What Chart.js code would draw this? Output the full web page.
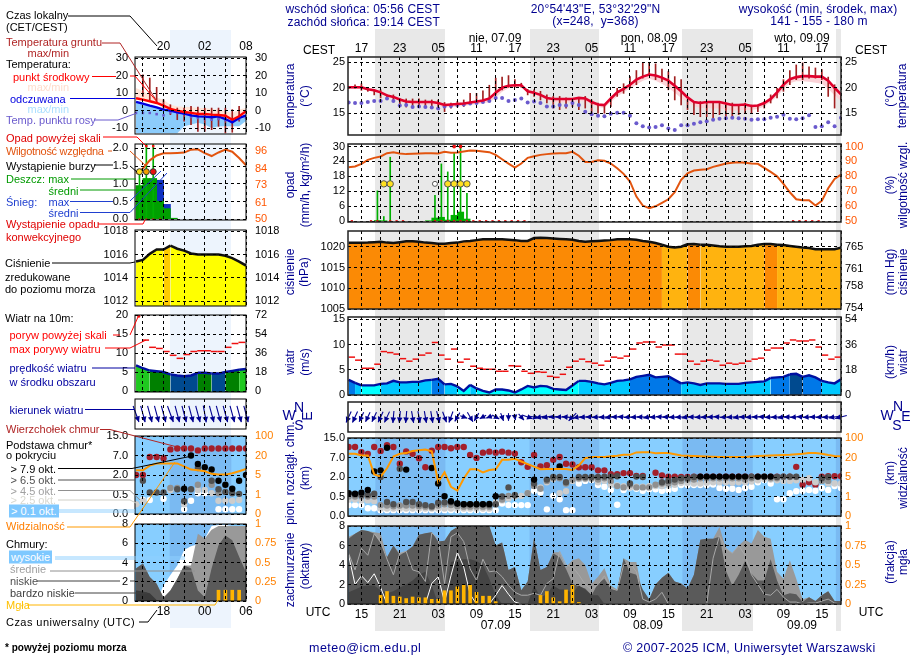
<!DOCTYPE html>
<html lang="pl">
<head>
<meta charset="utf-8">
<title>Meteogram</title>
<script src="https://cdn.jsdelivr.net/npm/chart.js@4"></script>
<style>
  html, body { margin: 0; padding: 0; background: #fff; }
  #page { position: relative; width: 910px; height: 660px; overflow: hidden; font: 12px "Liberation Sans", Arial, sans-serif; }
  #page canvas { position: absolute; z-index: 2; }
  .band { position: absolute; z-index: 1; }
  .txt { position: absolute; z-index: 4; white-space: pre; line-height: 1; }
  svg { position: absolute; left: 0; top: 0; z-index: 3; }
</style>
</head>
<body>
<div id="page"></div>
<script>
// ── Values, hour 0 = 13 UTC ───────────────────────────────────────────────
const temp = [20.1,20.1,20.1,19.7,19.5,19.1,18.5,18.2,17.7,17.3,17.2,17.2,17.2,17.2,17.0,16.6,16.7,16.8,16.9,17.1,17.3,17.5,17.9,19.0,20.0,20.4,20.5,20.5,19.3,19.0,18.6,18.0,17.8,17.8,17.8,17.8,18.0,17.9,17.2,16.7,16.6,17.9,19.1,19.8,20.6,21.6,22.2,22.6,22.4,22.0,21.4,20.4,19.3,18.1,17.2,17.0,17.2,17.2,17.2,16.9,16.6,16.6,16.7,16.4,16.5,17.0,17.8,19.1,20.6,21.7,22.1,22.3,22.3,22.2,22.2,21.4,20.0,18.7];
const tempLow = [19.8,19.8,19.8,19.4,19.2,18.8,18.2,17.9,17.4,16.9,16.7,16.6,16.6,16.6,16.4,16.1,16.2,16.3,16.4,16.6,16.8,16.9,17.2,18.0,19.2,19.9,20.1,20.2,19.0,18.6,18.2,17.6,17.2,17.1,17.1,17.2,17.4,17.3,16.7,16.2,16.0,17.2,18.3,19.1,19.8,20.6,21.4,21.8,21.4,20.8,20.0,19.0,18.0,17.2,16.4,16.0,16.0,15.9,15.9,15.7,15.5,15.6,15.6,15.6,15.8,16.3,17.2,18.3,19.7,20.9,21.3,21.3,21.2,21.0,20.8,19.8,18.5,17.4];
const dewPoint = [17.1,17.0,17.0,17.2,17.4,17.4,17.9,17.4,16.5,16.6,16.2,16.3,16.2,16.1,15.9,16.3,16.4,16.6,16.7,16.9,17.0,17.2,17.4,18.0,18.0,17.4,17.6,17.9,17.1,17.3,17.0,16.3,16.3,16.6,16.5,17.0,16.6,15.3,14.8,14.5,14.4,14.9,15.1,15.1,14.5,13.0,12.4,12.2,12.3,12.6,12.0,11.7,12.6,12.6,12.9,13.2,13.4,13.7,13.9,14.0,14.1,14.0,13.9,13.7,13.8,13.8,14.1,14.3,14.7,13.9,13.8,14.0,14.6,12.3,12.4,13.2,12.4,14.1];
const groundMax = [20.3,20.6,20.8,19.9,19.6,19.6,18.6,18.6,17.9,17.8,17.8,17.8,17.6,17.6,17.6,17.1,17,17.3,17.6,18.9,18.9,19.4,20.5,21.9,22.1,22.4,21.6,20.9,19.7,19.6,19.3,18.6,18.3,18.3,18,17.6,18,18.3,17.6,17,16.4,18.2,19.9,20.8,22.2,23.4,24.9,24.9,24.7,23.7,23.2,22.2,21.6,17.6,17.3,17.3,17.3,17.3,17.3,17,17,16.6,17,16.6,16.6,17.3,18.6,19.9,21.6,23.4,24.5,24.9,24.1,23.9,23.6,22.1,20.6,18.9];
const groundMin = [19.8,19.9,19.5,19.3,18.6,18,17.9,17.6,16.3,16.2,16.3,16.2,16.3,16.3,16.2,15.3,16,16.2,16.3,17,17.1,17.3,17.6,18.6,19.6,20.1,20.1,20.1,18.6,18.3,17.6,17,16,15.7,16,16.3,15.7,16,15,15,15,16.3,18.3,18.9,19.9,20.6,21.9,22.4,21.6,21.2,19.6,17.6,16.6,15.7,14.7,14.3,14.3,14,14.7,14.3,14,14.7,15,15,15.3,16,17,18,19.3,20.6,21.6,21.6,21.9,21.9,21.6,18.3,16,17.6];

const humidity = [86.2,86.6,88.4,91.1,92.4,93.3,95.5,96.2,95.3,94.9,95.1,95.3,95.5,95.5,95.3,96.4,95.8,96,96.7,97.3,97.1,96.7,96.2,94.4,91.5,88.6,85.9,88.6,92.4,93.5,94.4,94.9,95.3,95.5,95.5,96.4,93.8,89.7,89.7,90.8,90.4,88.6,85.5,81.7,76.6,66.5,60.5,58.7,60,62.3,64.7,69.4,77.7,82.1,83.9,84.4,84.8,86.4,87.5,88.6,89.1,89.5,89.1,88.6,88.4,85.7,83,80.1,75,69.4,64.7,64.1,64.1,60.5,63.6,72.1,78.3,81.3];
const rainMaxHours = [4.5,5.5,6.5,13.5,14.5,15.5,16.5,17.5,18.5];
const rainMax = [12.2,1.9,25.7,10.4,23,19.8,27.6,32,11.2];
const rainMeanHours = [4.5,5.5,12.5,13.5,14.5,15.5,16.5,17.5,18.5];
const rainMean = [0.3,0.1,0.2,1.3,1.6,0.5,2.4,3.7,0.9];
const stormHours = [5.5,6.5,15.5,16.5,17.5,18.5];
const weakStormHours = [13.5];
const overScaleHours = [16.5,17.5];
const convectiveHours = [0.5,3.5,4.5,6.5,7.5,8.5,13.5,14.5,15.5,16.5,17.5,18.5,19.5,20.5,21.5,22.5,23.5,24.5,25.5,26.5,27.5,69.5,70.5,71.5,72.5,73.5];

const pressure = [1020.96,1020.96,1020.96,1021,1021.1,1021.2,1021,1020.9,1021.1,1021.3,1021.3,1021.2,1021,1020.9,1020.7,1020.7,1020.9,1021,1021.3,1021.4,1021.6,1021.8,1021.8,1021.8,1021.8,1021.7,1021.6,1021.4,1021.4,1022.1,1022.2,1022.1,1022,1021.9,1021.8,1021.7,1021.4,1021.2,1021.3,1021.4,1021.5,1021.6,1021.8,1021.8,1021.8,1021.7,1021.4,1021.2,1020.9,1020.5,1020,1019.8,1020,1020.6,1020.64,1020.5,1020.5,1020.3,1020.1,1020,1020,1020,1020.1,1020.2,1020.5,1020.64,1020.64,1020.5,1020.4,1020.2,1020,1019.8,1019.7,1019.4,1019.4,1019.4,1019.4,1019.8];

const wind = [3.0,2.4,1.9,1.9,1.9,2.2,2.3,2.8,2.5,2.5,2.6,2.6,2.9,3.0,3.2,2.1,2.2,1.7,0.8,2.0,1.3,0.8,0.5,1.1,1.1,0.9,0.5,1.1,1.8,1.5,1.8,1.7,1.2,1.1,1.0,1.9,2.8,2.8,2.6,2.3,2.1,2.4,2.8,2.9,3.1,3.6,3.8,4.0,3.5,3.6,3.7,3.0,2.3,2.5,2.3,2.0,2.3,2.3,2.3,2.2,2.2,2.2,2.4,2.5,2.6,2.7,3.4,3.5,3.6,4.1,4.2,3.6,3.9,3.5,2.8,2.5,2.3,3.1];
const gust = [7.5,6.9,5.3,5.3,6.1,8.6,8.4,8.1,7.2,6.7,7.1,7.9,8.3,10.4,7.9,7.1,9.1,6.5,7.1,5.7,5.3,5.1,5.1,4.7,4.7,5.8,5.7,4.7,4.3,4.6,4.5,3.7,3.5,4.1,5.5,6.7,7.1,6.6,6.3,5.9,6.7,7.5,7.3,7.7,9.1,10.3,10.5,10.5,9.5,9.9,9.9,8.1,8.1,6.7,6.1,6.7,6.9,6.7,5.9,6.3,6.1,6.3,6.7,7.1,7.3,8.9,9.3,9.3,10.3,10.9,10.7,10.7,10.9,9.5,7.9,7.1,7.5];
const windDir = [25,25,25,25,25,25,25,5,5,5,350,350,350,350,345,340,20,30,290,330,30,60,70,300,340,0,350,320,290,280,80,80,85,90,95,45,80,85,90,85,85,80,90,95,85,85,90,80,85,95,90,85,85,80,90,85,85,90,95,85,85,80,90,85,90,95,85,85,80,90,85,95,85,90,85,85,80,75];

const cloudTop = [11.3,11.3,9.2,8.5,11.3,9.7,12,11.3,5.4,9.5,8.5,6.8,4.5,9.8,11.3,11.3,10.8,11.3,11.3,8,6.9,9,9.4,9,9.4,9,8.6,5.8,4.6,8,4.7,5,6.4,7.2,5.4,5.2,4.5,4.5,4.5,3.7,3.7,2.7,2.7,3,3,2.3,2.3,null,3.1,2.4,2.1,2.1,2,2,2.1,2.1,2.1,2.1,2.1,2.1,2.1,2.1,2.1,2.1,2.1,2.1,2.1,2.1,2.1,2.1,4.6,1.4,1.6,1.4,2.1,2.2,2.2,2.2];
const base79 = [0.76,0.72,0.8,1,3.4,3.7,11,null,null,3.9,null,null,null,4.3,1.5,0.52,0.38,0.32,0.3,0.3,0.3,0.3,0.31,0.52,null,null,null,null,null,1.8,null,null,null,4.7,null,null,null,null,null,null,null,null,null,null,null,null,null,null,null,null,null,null,null,null,null,2.1,2.1,2.1,2.1,2.1,2.1,2.1,2.1,null,2.1,2.1,2.1,null,null,null,null,null,null,null,null,null,null,null];
const base65 = [0.72,0.66,0.62,0.62,0.72,2,0.36,0.3,4.1,0.36,0.36,0.3,0.28,0.25,0.34,0.35,0.35,0.32,0.3,0.3,0.3,0.3,0.28,0.3,0.5,1.2,0.6,null,null,1.5,null,1.8,2,2,1.6,null,2,2,2,2,2.1,2.1,2.2,null,1.5,2.1,2,null,null,1.6,1.7,1.8,1.9,1.9,2,null,null,null,null,null,null,null,null,2.1,null,null,null,2,2.1,2.1,2.1,null,null,null,1.9,2,null,null];
const base45 = [0.5,0.5,0.5,0.5,0.5,0.28,0.27,0.25,0.27,0.27,0.27,0.25,0.24,0.22,0.27,0.3,0.28,0.25,0.24,0.24,0.24,0.24,0.24,0.3,0.42,0.55,0.62,null,0.75,1.3,1.1,1.7,1.9,1.9,1.5,1.8,1.9,1.9,1.9,1.8,1.9,1.7,1.3,1.2,1.4,1.2,1.2,1.2,1.4,1.5,1.5,1.6,1.7,1.8,1.8,1.9,1.9,1.9,1.9,1.9,1.9,1.9,1.8,1.9,2,2,1.9,1.9,2,2,2,null,null,null,1.7,1.7,null,null];
const base25 = [0.42,0.42,0.4,0.4,0.38,0.19,0.19,0.19,0.19,0.19,0.19,0.19,0.19,0.19,0.19,0.19,0.19,0.19,0.19,0.19,0.19,0.19,0.19,0.35,0.4,0.45,0.5,0.55,0.78,1.35,1.2,1.6,1.85,0.76,0.9,1.7,1.85,1.85,1.85,1.6,1.7,1.4,1.35,1.3,1.2,1.25,1.25,1.3,1.3,1.3,1.35,1.4,1.55,1.55,1.5,1.5,1.55,1.6,1.6,1.6,1.55,1.6,1.6,1.65,1.75,1.85,1.8,1.75,1.7,1.7,1.75,1.8,1.9,1.6,1.7,1.5,1.5,1.5];
const base01 = [0.28,0.28,0.28,0.2,0.2,0.15,0.15,0.15,0.15,0.15,0.15,0.15,0.15,0.15,0.15,0.15,0.15,0.15,0.15,0.15,0.15,0.15,0.15,0.15,0.32,0.28,0.28,0.28,0.28,0.95,0.8,0.17,0.55,0.43,0.15,0.15,1.5,1.7,1.76,1.38,1.25,1,0.29,1,1.2,1.1,0.94,1.05,1.05,0.94,1,1.1,1.38,1.38,1.38,1.38,1.38,1.42,1.15,1.1,1.1,1,1.15,1.25,1.6,1.76,1.5,0.43,0.43,0.75,0.9,0.94,1,0.94,1.15,1,1.3,1.15];
const visibility = [35,35,28,28,7,5.3,11.7,24,35,38,47,50,53,45,4,8.6,3,2.2,4.7,11,11,8.6,10.4,11,18.2,18.2,19,16.9,14.9,13,11,11.2,11.2,11.2,11.2,10.4,13.9,19.5,22.4,21.6,21.6,25,27,31,31,41,42,42,37,38,38,33,28,27,26,25,24,23,22,22,22,22,22,24,26,27,28,29,30,31,33,35,38,38,35,30,26,25];

const cloudLow = [6.7,7.2,7.6,7.5,7.2,6.2,4.8,6,5,5.4,5.9,7.1,7.25,7.35,6.4,6.5,7.5,7.9,8,8,8,8,8,6,6.3,3.5,3.8,1.4,2.3,6.8,3.5,3.8,5.2,4.8,3.6,2.1,1.8,1.6,0.9,2.1,2.6,1.6,1.4,4.7,3.2,3,1.5,0.5,2,2.7,3.2,2.3,2.1,1.6,3,6.6,6.7,6.7,6.9,3.4,1.9,3,4.4,3.1,2.4,2.4,4.6,2.4,0.9,1.1,1,0.2,0.7,0.3,0.9,1.3,0.3,0.3];
const cloudVeryLow = [1.2,1.5,1.8,1.9,1.9,1.4,1.1,1.3,1.7,2,2.4,3,3.3,1.9,0,0,4.3,4.5,4.6,4.6,4.4,4,2.6,0.9,0,0,0,0,0,1.9,0.7,1,1.9,1.5,1.5,1.1,1.9,1.5,0.9,0.9,0,0,0,0,0,0,0,0,0,0,0,0,0,0,0,0,0,0,0,0,0,0,0,0,0,0,0,0,0,0,0,0,0,0,0,0,0,0];
const cloudMid = [6.9,7.2,7.6,7.5,7.35,7.25,4.8,6,5.2,5.4,5.9,7.1,7.25,7.35,6.4,6.5,7.5,7.9,8,8,8,8,8,6,6.3,3.5,3.8,1.4,2.3,6.8,3.5,3.8,5.3,5.3,3.8,4.5,4.7,4,2.1,2.8,3.7,1.9,1.5,4.7,4.3,4.3,0.9,0.5,2,2.7,3.2,2.3,2.1,1.6,3,6.6,6.7,6.7,7.9,5.7,5.2,6,6.6,6.2,7.6,6.9,6.7,3.3,2.6,4.5,2.6,0.5,0.7,0.3,0.9,1.3,0.3,0.3];
const cloudMidLine = [5.2,3.5,5.7,5,7.2,6.4,4.6,3,5.2,5.4,3.5,3.3,2.3,7.3,6.7,2.1,6.9,7.3,6.4,3.6,2.4,4.6,3.3,3.4,2.8,1.9,1.2,0.9,0.9,1.1,0.9,2.1,2.6,5.4,4,3.8,3,2,1.5,2,2.9,1.6,1.4,4,4.2,3.3,0.5,0.2,0.5,1.2,0,0,0,0,0,0,0,4.7,7,5.7,5.2,6,5,3,2,1,0.9,1.5,0.7,0.2,0.2,0,0.1,0.1,0.3,0.5,0.1,0];
const cloudHighLine = [5,2,2.9,2.2,3.1,1.7,0,0,0,0,0,0,0,2.1,2.8,0.2,2.9,5.3,3.8,1,0,0,0,0.9,1.9,1,0.2,0,0,0,0,0,0,0,0,0,0,0,0,0,0,0,0,0,0,0,0,0,0,0,0,0,0,0,0,0,0,0,0,0,0,0,0,0,0,0,0,0,0,0,0,0,0,0,0,0,0,0];
const fogHours = [5,6,7,8,9,10,11,12,13,14,15,16,17,18,19,20,21,22,23,30,31,32,33,34,35,36];
const fog = [0.11,0.16,0.1,0.09,0.07,0.09,0.08,0.08,0.06,0.06,0.17,0.17,0.22,0.24,0.24,0.15,0.1,0.1,0.03,0.11,0.16,0.08,0.03,0.18,0.24,0.02];

// ── Left "legend" panels, hours 1..17 ─────────────────────────────────────
const legendTemp = [7.1,6.3,5.4,4.4,2.9,1,0,-0.8,-1.3,-1.9,-1.9,-2.3,-2.5,-2.9,-5.2,-3.2,-0.4];
const legendTempHigh = [13,11.1,9.2,7.6,6.3,3.4,2.5,2.1,2.1,1.5,1.5,1,0.6,-0.4,-1.3,0.6,1.5];
const legendFeels = [5,4,2.9,1.9,0.6,0,-1,-1.7,-2.7,-3.3,-3.4,-3.8,-3.3,-4.8,-6.7,-4.2,-2.7];
const legendFeelsLow = [-13,-13,-13,-13,-13,-13,-13,-9,-8,-7,-8,-10,-9,-9,-9,-9,-6];
const legendDew = [-1.3,-1.3,-1.3,-2,-2.7,-1,-1.3,-1.7,-3.6,-4.2,-4.8,-5.2,-4.8,-5.5,-6,-4.8,-4];
const legendGroundMax = [null,20.6,18.7,13.4,6.3,3.4,1.5,1.5,2.5,2.1,1.5,1.5,1.5,1.5,0.6,2.5,null];
const legendGroundMin = [null,8.2,6.3,4.4,0.6,-2.3,-5.2,-6.1,-8,-11.9,-11.9,-10.9,-9,-12.8,-12.4,-6.1,null];
const legendHumidity = [81,84.2,89.7,93,94.4,94.4,94.6,94.9,96.9,97.1,94.6,92.6,95,96.9,95.5,91.3,86.4];
const legendRainHours = [1.5,2.5,3.5,4.5,5.5,6.5];
const legendRain = [0.95,1.15,1.15,0.51,0.3,0.03];
const legendSnowHigh = [null,null,null,1.1,0.42,null];
const legendStickHours = [1.5,2.5,3.5];
const legendStick = [1.34,2.2,2.2];
const legendStorm = [1.34,1.34,1.34];
const legendOverHours = [2.5,3.5];
const legendConvHours = [1.5,2.5,3.5,4.5];
const legendPressure = [1015.4,1015.54,1016.06,1016.43,1016.43,1016.77,1016.5,1016.34,1016.09,1016,1016,1016,1016,1015.9,1015.7,1015.4,1015.06];
const legendWind = [6.75,6,5.4,5.2,5,4.4,4.1,3.9,4.1,4.8,4.8,4.6,4.6,5,5.3,5.6,5.8];
const legendGust = [13.4,11.5,11.2,10.4,9.4,8.6,9.6,10.4,10.6,10.6,10.4,10.4,11.5,12.5,12.8];
const legendDir = [340,345,345,345,345,340,345,345,345,345,350,345,345,345,345,345,345];
const legendTop = [2,2,6.6,6.6,6.3,9.5,9.9,9.9,9.9,9.1,9.9,9.9,9.9,9.9,9.9,9.9,9.9];
const legend79 = [null,null,null,null,null,null,null,0.94,7,4.85,4,3.4,1.56,1.25,0.94,1.56,2];
const legend65 = [null,1.56,0.65,0.65,0.65,null,0.9,0.33,0.9,3.8,null,1.56,0.9,0.7,0.6,0.55,null];
const legend45 = [null,null,null,null,null,1,1,null,null,1.25,null,1.25,0.6,null,null,null,null];
const legend25 = [0.25,0.34,null,null,null,0.85,null,0.25,null,0.85,0.85,0.6,0.34,0.34,0.34,0.36,null];
const legend01 = [null,0.36,0.36,null,0.39,null,null,0.12,0.34,0.6,0.6,null,0.12,0.12,0.12,0.12,null];
const legendVis = [8.6,8.6,12.2,13.9,13.9,13.9,13.9,11.7,9.2,8.6,7.9,5.9,5.3,5.3,6.3,7.9,9.6];
const legendLow = [3.4,3.9,2.5,1.8,0.3,1.1,2.3,3.7,3.4,1.1,0.4,3.4,5.8,6.8,6.3,4.6,3];
const legendVeryLow = [1.1,1,0.8,0.1,0,0,0,0,0,0,0,0,0,0,0,0,0];
const legendMid = [3.2,3.9,2.5,1.8,0.4,1.1,2.3,3.7,3.7,7,6.5,7.4,7.8,7.8,7.8,7.8,7.8];
const legendHigh = [1,0.1,0,0,1.6,2.7,3.7,5.3,5.7,5.9,6.5,7.8,7.9,7.9,7.8,6.8,5.4];
const legendFogHours = [13,14,15,16];
const legendFog = [0.14,0.14,0.14,0.14];

// ── Axis tick labels ──────────────────────────────────────────────────────
const heightStops = [0, 0.5, 2, 7, 15];
const heightLabels = ['0.0', '0.5', '2.0', '7.0', '15.0'];
const visStops = [0, 1, 5, 20, 100];
const visLabels = ['0', '1', '5', '20', '100'];
const mainGrid = [2,5,8,11,14,17,20,23,26,29,32,35,38,41,44,47,50,53,56,59,62,65,68,71,74,77];
const legendGrid = [2,5,8,11,14,17];
const mainNights = [[4.18,15.13],[28.3,39.2],[52.2,63.2],[76.2,77]];
const legendNights = [[5.9,14.86]];

// ── Helpers ───────────────────────────────────────────────────────────────
const page = document.getElementById('page');
const HG = 0.75006, KMH = 3.6;
Chart.defaults.font.family = '"Liberation Sans", Arial, sans-serif';
Chart.defaults.font.size = 11;
Chart.defaults.color = '#000';

const pad2 = n => String(n).padStart(2, '0');
const series = (values, start = 0, shift = 0) => values.map((v, i) => ({ x: start + i + shift, y: v }));
const at = (hours, values) => hours.map((h, i) => ({ x: h, y: values[i] }));
const floating = (lo, hi, start = 0) => lo.map((v, i) => ({ x: start + i, y: v === null ? null : [v, hi[i]] }));

// piecewise height scale: every stop gets an equal step on the axis
function level(v, stops) {
  if (v === null) return null;
  for (let i = 1; i < stops.length; i++) {
    if (v <= stops[i]) return i - 1 + (v - stops[i - 1]) / (stops[i] - stops[i - 1]);
  }
  return stops.length - 1;
}
const levels = (values, stops) => values.map(v => level(v, stops));

const line = (data, color, width = 2, extra = {}) => ({
  type: 'line', data, borderColor: color, borderWidth: width, pointRadius: 0, tension: 0, fill: false, spanGaps: false, ...extra,
});
const dots = (data, color, radius = 3.2, extra = {}) => ({
  type: 'line', data, showLine: false, pointRadius: radius, pointBackgroundColor: color, pointBorderColor: color, pointBorderWidth: 0, ...extra,
});
const bars = (data, color, thickness, extra = {}) => ({
  type: 'bar', data, backgroundColor: color, barThickness: thickness, grouped: false, ...extra,
});
const dashes = (data, color, radius) => ({
  type: 'line', data, showLine: false, pointStyle: 'line', pointRadius: radius, pointBorderColor: color, pointBorderWidth: 1.5,
});

// panel background, night shading and frame
Chart.register({
  id: 'panel',
  beforeDraw(chart, args, o) {
    const { ctx, chartArea: a, scales: { x } } = chart;
    ctx.save();
    if (o.bg) {
      ctx.fillStyle = o.bg;
      ctx.fillRect(a.left, a.top, a.width, a.height);
      ctx.fillStyle = o.nightColor;
      (o.nights || []).forEach(([s, e]) => {
        const l = x.getPixelForValue(s);
        ctx.fillRect(l, a.top, x.getPixelForValue(e) - l, a.height);
      });
    }
    ctx.restore();
  },
  afterDraw(chart, args, o) {
    const { ctx, chartArea: a } = chart;
    ctx.save();
    ctx.strokeStyle = o.frame || '#000';
    ctx.lineWidth = o.frameWidth || 1;
    ctx.strokeRect(a.left, a.top, a.width, a.height);
    ctx.restore();
  },
});

// wind arrows, centred on the axis line
const arrowsPlugin = (hours, dirs, lengthAt) => ({
  id: 'arrows',
  afterDatasetsDraw(chart) {
    const { ctx, scales: { x, y } } = chart;
    ctx.save();
    ctx.strokeStyle = ctx.fillStyle = '#000090';
    ctx.lineWidth = 1.1;
    hours.forEach((h, i) => {
      const a = dirs[i] * Math.PI / 180, L = lengthAt(i) / 2;
      const sx = Math.sin(a), sy = -Math.cos(a);
      const cx = x.getPixelForValue(h), cy = y.getPixelForValue(0);
      const hx = cx - sx * L, hy = cy - sy * L;
      ctx.beginPath();
      ctx.moveTo(cx + sx * L, cy + sy * L);
      ctx.lineTo(hx, hy);
      ctx.stroke();
      ctx.beginPath();
      ctx.moveTo(hx, hy);
      ctx.lineTo(hx + sx * 5.5 - sy * 2.8, hy + sy * 5.5 + sx * 2.8);
      ctx.lineTo(hx + sx * 5.5 + sy * 2.8, hy + sy * 5.5 - sx * 2.8);
      ctx.fill();
    });
    ctx.restore();
  },
});

function yAxis(cfg, position, width, padding, grid) {
  return {
    type: 'linear', position, min: cfg.min, max: cfg.max,
    afterFit: s => { s.width = width; s.paddingTop = 0; s.paddingBottom = 0; },
    afterBuildTicks: s => { s.ticks = (cfg.ticks || []).map(v => ({ value: v })); },
    border: { display: false, dash: [3, 3] },
    grid: { display: grid && !!cfg.ticks, color: '#000', drawTicks: false, z: 1 },
    ticks: {
      display: !!cfg.ticks, padding, color: cfg.color || '#000', autoSkip: false,
      callback: cfg.fmt || (v => v),
    },
  };
}

// the canvas is sized so that the chart area lands exactly on the box
function addPanel(box, xCfg, left, right, datasets, opt = {}) {
  const axisW = xCfg.axisW, lab = opt.xLabels, extra = 22;
  const top = lab === 'top' ? extra : 9, bottom = lab === 'bottom' ? extra : 9;
  const c = document.createElement('canvas');
  const w = box.r - box.l + 2 * axisW, h = box.b - box.t + top + bottom;
  c.width = w; c.height = h;
  c.style.cssText = `left:${box.l - axisW}px;top:${box.t - top}px;width:${w}px;height:${h}px`;
  page.appendChild(c);
  return new Chart(c, {
    data: { datasets },
    plugins: opt.plugins || [],
    options: {
      responsive: false, animation: false, devicePixelRatio: 1,
      layout: { autoPadding: false, padding: { top: lab === 'top' ? 0 : 9, bottom: lab === 'bottom' ? 0 : 9, left: 0, right: 0 } },
      plugins: {
        legend: { display: false }, tooltip: { enabled: false },
        panel: { bg: opt.bg, nights: xCfg.nights, nightColor: opt.nightColor, frame: xCfg.frame, frameWidth: xCfg.frameWidth },
      },
      scales: {
        x: {
          type: 'linear', offset: false, position: lab === 'top' ? 'top' : 'bottom', min: xCfg.min, max: xCfg.max,
          afterFit: s => { s.height = lab ? extra : 0; s.paddingLeft = 0; s.paddingRight = 0; },
          afterBuildTicks: s => { s.ticks = xCfg.grid.map(v => ({ value: v })); },
          border: { display: false, dash: [3, 3] },
          grid: { offset: false, color: '#000', drawTicks: false, z: 1 },
          ticks: {
            display: !!lab, autoSkip: false, maxRotation: 0, padding: lab === 'top' ? xCfg.topPad : 3,
            font: { size: 12 },
            callback: v => {
              if ((v - xCfg.first) % 6) return '';
              return pad2((13 + v + (lab === 'top' ? 2 : 0)) % 24);
            },
          },
        },
        y: yAxis(left, 'left', axisW, xCfg.padL, true),
        y2: yAxis(right, 'right', axisW, xCfg.padR, false),
      },
    },
  });
}

// ── Background bands ──────────────────────────────────────────────────────
const mainX = { min: -0.1, max: 77, grid: mainGrid, first: 2, nights: mainNights, axisW: 35, padL: 3, padR: 4, topPad: 1, frame: '#222', frameWidth: 1.5 };
const legendX = { min: 0.85, max: 17, grid: legendGrid, first: 5, nights: legendNights, axisW: 35, padL: 7, padR: 9, topPad: 3, frame: '#000', frameWidth: 1 };

function addBands(nights, l, r, cfg, top, bottom, color) {
  nights.forEach(([s, e]) => {
    const k = (r - l) / (cfg.max - cfg.min);
    const d = document.createElement('div');
    d.className = 'band';
    d.style.cssText = `left:${l + (s - cfg.min) * k}px;width:${(e - s) * k}px;top:${top}px;height:${bottom - top}px;background:${color}`;
    page.appendChild(d);
  });
}
addBands(mainNights, 348, 841, mainX, 29, 631, '#e8e8e8');
addBands(legendNights, 135, 246, legendX, 30, 628, '#edf4fd');

// ── Colours by value ──────────────────────────────────────────────────────
const GROUND = '#a02020', RED = '#e0002c', DEW = '#6a5acd', RH = '#e2540f', ORANGE = '#ff9900', NAVY = '#000090';
const mainWindColor = v => v < 2 ? '#00ffff' : v < 3 ? '#00c8ff' : v < 4.1 ? '#0078e8' : '#004a8f';
const legendWindColor = v => v < 4.7 ? '#004a8f' : v < 5.5 ? '#008000' : '#1fc81f';
const valueFill = (values, fn) => ({ backgroundColor: ctx => fn(values[ctx.p0DataIndex]) });

const tempY = { min: 10.7, max: 26.06, ticks: [25, 20, 15] };
const rainY = { min: -0.3, max: 31, ticks: [30, 24, 18, 12, 6, 0] };
const rhY = { min: 49.5, max: 101.67, ticks: [100, 90, 80, 70, 60, 50], color: '#ff5500' };
const pressY = { min: 1005, max: 1023.8, ticks: [1020, 1015, 1010, 1005] };
const mmHgY = { min: 1005 * HG, max: 1023.8 * HG, ticks: [765, 761, 758, 754] };
const windY = { min: 0, max: 15.45, ticks: [15, 10, 5, 0] };
const kmhY = { min: 0, max: 15.45 * KMH, ticks: [54, 36, 18, 0] };
const dirY = { min: -1, max: 1 };
const heightY = { min: 0, max: 4, ticks: [4, 3, 2, 1, 0], fmt: v => heightLabels[v] };
const visY = { min: 0, max: 4, ticks: [4, 3, 2, 1, 0], fmt: v => visLabels[v], color: '#ff8000' };
const oktaY = { min: 0, max: 8, ticks: [8, 6, 4, 2, 0] };
const fracY = { min: 0, max: 1, ticks: [1, 0.75, 0.5, 0.25, 0], color: '#ff8000' };
const onR = { yAxisID: 'y2' };

// ── Main panels ───────────────────────────────────────────────────────────
addPanel({ l: 348, r: 841, t: 57, b: 135 }, mainX, tempY, { ...tempY }, [
  line(series(temp), RED, 2.6),
  dots(series(dewPoint), DEW, 2),
  bars(floating(groundMin, groundMax), GROUND, 1),
  line(series(tempLow), 'rgba(0,0,0,0)', 0, { fill: '+1', backgroundColor: '#fbd3d8' }),
  line(series(temp), 'rgba(0,0,0,0)', 0),
], { xLabels: 'top' });

addPanel({ l: 348, r: 841, t: 144, b: 222 }, mainX, rainY, rhY, [
  dots(at(overScaleHours, [30, 30]), '#ee1111', 1.9),
  dots(at(stormHours, stormHours.map(() => 15)), '#ffe020', 3.2, { pointBorderColor: '#555', pointBorderWidth: 1 }),
  dots(at(weakStormHours, [15]), '#ffffff', 2.5, { pointBorderColor: '#555', pointBorderWidth: 1 }),
  line(series(humidity), RH, 2, onR),
  dots(at(convectiveHours, convectiveHours.map(() => 0)), '#dd1111', 1.6, { pointStyle: 'rect' }),
  bars(at(rainMaxHours, rainMax), '#00b000', 1),
  bars(at(rainMeanHours, rainMean), '#00b000', 6.4),
]);

addPanel({ l: 348, r: 841, t: 231, b: 309 }, mainX, pressY, mmHgY, [
  line(series(pressure), '#111', 2.5, {
    fill: 'start', backgroundColor: '#fb8a05',
    segment: valueFill(pressure, v => v >= 1020.6 ? '#fb8a05' : '#ffb30f'),
  }),
]);

addPanel({ l: 348, r: 841, t: 317, b: 395 }, mainX, windY, kmhY, [
  dashes(series(gust, 0, 0.5), '#ee1111', 3.2),
  line(series(wind), '#0010a0', 2.4, {
    fill: 'start', backgroundColor: '#00c8ff',
    segment: valueFill(wind, mainWindColor),
  }),
]);

addPanel({ l: 348, r: 841, t: 402, b: 432 }, mainX, dirY, dirY, [
  line(series(windDir.map(() => 0)), 'rgba(0,0,0,0)', 0),
], { plugins: [arrowsPlugin(windDir.map((d, i) => i), windDir, i => Math.min(12, 5 + wind[i] * 3))] });

addPanel({ l: 348, r: 841, t: 438, b: 516 }, mainX, heightY, visY, [
  line(series(levels(visibility, visStops)), ORANGE, 2, onR),
  dots(series(levels(base79, heightStops)), '#000'),
  dots(series(levels(base65, heightStops)), '#505050'),
  dots(series(levels(base45, heightStops)), '#909090'),
  dots(series(levels(base25, heightStops)), '#cccccc'),
  dots(series(levels(base01, heightStops)), '#ffffff'),
  dots(series(levels(cloudTop, heightStops)), '#a31f2b'),
], { bg: '#87ceff', nightColor: 'rgba(70,110,190,0.2)' });

addPanel({ l: 348, r: 841, t: 526, b: 604 }, mainX, oktaY, fracY, [
  bars(at(fogHours, fog), '#ffb400', 3, onR),
  line(series(cloudHighLine), '#ffffff', 1),
  line(series(cloudMidLine), '#a8a8a8', 1),
  line(series(cloudVeryLow), '#444', 0, { fill: 'start', backgroundColor: '#444' }),
  line(series(cloudLow), '#5a5a5a', 0, { fill: 'start', backgroundColor: '#5a5a5a' }),
  line(series(cloudMid), '#999', 0, { fill: 'start', backgroundColor: '#999' }),
], { bg: '#87ceff', nightColor: 'rgba(70,110,190,0.2)', xLabels: 'bottom' });

// ── Legend panels ─────────────────────────────────────────────────────────
const lTempY = { min: -13.4, max: 30.8, ticks: [30, 20, 10, 0, -10] };
const lRainY = { min: -0.02, max: 2.12, ticks: [2, 1.5, 1, 0.5, 0], fmt: v => v.toFixed(1) };
const lRhY = { min: 49.55, max: 100.7, ticks: [96, 84, 73, 61, 50], color: '#ff5500' };
const lPressY = { min: 1011.6, max: 1018.1, ticks: [1018, 1016, 1014, 1012] };
const lWindY = { min: -0.25, max: 20, ticks: [20, 15, 10, 5, 0] };
const lKmhY = { min: -0.25 * KMH, max: 20 * KMH, ticks: [72, 54, 36, 18, 0] };
const lBox = (t, b) => ({ l: 135, r: 246, t, b });

addPanel(lBox(57, 134), legendX, lTempY, { ...lTempY }, [
  line(series(legendTemp, 1), '#f00', 2.4),
  line(series(legendFeels, 1), '#0000e0', 2.4),
  dots(series(legendDew, 1), DEW, 1.8, { pointStyle: 'rect' }),
  bars(floating(legendGroundMin, legendGroundMax, 1), GROUND, 1),
  line(series(legendTempHigh, 1), 'rgba(0,0,0,0)', 0, { fill: '+1', backgroundColor: '#ffe4d8' }),
  line(series(legendTemp, 1), 'rgba(0,0,0,0)', 0),
  line(series(legendFeels, 1), 'rgba(0,0,0,0)', 0, { fill: '+1', backgroundColor: 'rgba(120,195,250,0.85)' }),
  line(series(legendFeelsLow, 1), 'rgba(0,0,0,0)', 0),
], { xLabels: 'top' });

addPanel(lBox(144, 220), legendX, lRainY, lRhY, [
  dots(at(legendOverHours, [2.06, 2.06]), '#ee1111', 1.7, { pointStyle: 'rect' }),
  dots(at(legendStickHours, legendStorm), ['#ffe020', '#f0a000', '#e81010'], 3, { pointBorderColor: '#333', pointBorderWidth: 1 }),
  line(series(legendHumidity, 1), RH, 2, onR),
  dots(at(legendConvHours, legendConvHours.map(() => 0)), '#dd1111', 1.3, { pointStyle: 'rect' }),
  bars(at(legendStickHours, legendStick), '#00b000', 1),
  bars(at(legendRainHours, legendRain), '#00a000', 7),
  bars(at(legendRainHours, legendSnowHigh), '#1030c0', 7),
]);

addPanel(lBox(230, 306), legendX, lPressY, { ...lPressY }, [
  line(series(legendPressure, 1), '#111', 2.5, {
    fill: 'start', backgroundColor: '#ffff00',
    segment: { backgroundColor: ctx => legendPressure[ctx.p1DataIndex] >= 1016.7 ? '#ffcc00' : '#ffff00' },
  }),
]);

addPanel(lBox(315, 392), legendX, lWindY, lKmhY, [
  dots(at([1.4], [19.7]), '#ee1111', 1.5),
  dashes(series(legendGust, 2, 0.4), '#ee1111', 3.4),
  line(series(legendWind, 1), '#0010a0', 2.4, {
    fill: 'start', backgroundColor: '#008000',
    segment: valueFill(legendWind, legendWindColor),
  }),
]);

addPanel(lBox(399, 429), legendX, dirY, dirY, [
  line(series(legendDir.map(() => 0), 1), 'rgba(0,0,0,0)', 0),
], { plugins: [arrowsPlugin(legendDir.map((d, i) => i + 1), legendDir, () => 17)] });

addPanel(lBox(436, 514), legendX, heightY, visY, [
  line(series(levels(legendVis, visStops), 1), ORANGE, 2, onR),
  dots(series(levels(legend79, heightStops), 1), '#000'),
  dots(series(levels(legend65, heightStops), 1), '#505050'),
  dots(series(levels(legend45, heightStops), 1), '#909090'),
  dots(series(levels(legend25, heightStops), 1), '#cccccc'),
  dots(series(levels(legend01, heightStops), 1), '#ffffff'),
  dots(series(levels(legendTop, heightStops), 1), '#a31f2b'),
], { bg: '#87ceff', nightColor: 'rgba(70,110,190,0.2)' });

addPanel(lBox(524, 601), legendX, oktaY, fracY, [
  bars(at(legendFogHours, legendFog), '#ffb400', 3, onR),
  line(series(legendVeryLow, 1), '#3a3a3a', 0, { fill: 'start', backgroundColor: '#3a3a3a' }),
  line(series(legendLow, 1), '#5a5a5a', 0, { fill: 'start', backgroundColor: '#5a5a5a' }),
  line(series(legendMid, 1), '#999', 0, { fill: 'start', backgroundColor: '#999' }),
  line(series(legendHigh, 1), '#fff', 0, { fill: 'start', backgroundColor: '#fff' }),
], { bg: '#87ceff', nightColor: 'rgba(70,110,190,0.2)', xLabels: 'bottom' });

// ── Text ──────────────────────────────────────────────────────────────────
function txt(text, x, y, color = '#000', o = {}) {
  const d = document.createElement('div');
  d.className = 'txt';
  d.textContent = text;
  const tx = o.center ? '-50%' : '0';
  const size = x < 135 ? 'font-size:11px;' : '';
  d.style.cssText = `left:${x}px;top:${y}px;color:${color};${size}transform:translate(${tx},-50%) ${o.rot ? `rotate(${o.rot}deg)` : ''};` + (o.css || '');
  page.appendChild(d);
}
const BROWN = '#b02525', LGREEN = '#009a00', SNOW = '#2040d0', CHIP = 'background:#7ec8ff;padding:1px 2px;margin-left:-2px;';
const TOPTXT = { css: 'letter-spacing:.15px;' };
[
  ['Czas lokalny', 6, 15], ['(CET/CEST)', 6, 26.5],
  ['Temperatura gruntu', 6, 42, BROWN], ['max/min', 27.5, 52.5, BROWN],
  ['Temperatura:', 6, 64], ['punkt środkowy', 13, 76.5, '#f00'], ['max/min', 27.5, 87, '#ffdccc'],
  ['odczuwana', 10, 98.5, '#0000e0'], ['max/min', 27.5, 108.5, '#aadfff'], ['Temp. punktu rosy', 6, 120, DEW],
  ['Opad powyżej skali', 6, 137.5, '#e00000'], ['Wilgotność względna', 6, 151, RH, { css: 'letter-spacing:-.3px;' }], ['Wystąpienie burzy', 6, 165.5],
  ['Deszcz: max', 6, 179, LGREEN], ['średni', 48.5, 190.5, LGREEN], ['Śnieg:', 6, 201.5, SNOW], ['max', 48.5, 201.5, SNOW], ['średni', 48.5, 212.5, SNOW],
  ['Wystąpienie opadu', 6, 224, '#e00000'], ['konwekcyjnego', 6, 237, '#e00000'],
  ['Ciśnienie', 5, 263], ['zredukowane', 5, 276.5], ['do poziomu morza', 5, 289],
  ['Wiatr na 10m:', 5, 318], ['poryw powyżej skali', 9.5, 335, '#f00'], ['max porywy wiatru', 9.5, 348.5, '#f00'],
  ['prędkość wiatru', 9.5, 368, '#0000a0'], ['w środku obszaru', 9.5, 381.5, '#0000a0'], ['kierunek wiatru', 9.5, 409.5, '#0000a0'],
  ['Wierzchołek chmur', 6, 429, BROWN], ['Podstawa chmur*', 6, 444.5], ['o pokryciu', 6, 455],
  ['> 7.9 okt.', 10.5, 468.5], ['> 6.5 okt.', 10.5, 479.5, '#505050'], ['> 4.5 okt.', 10.5, 490.5, '#a0a0a0'], ['> 2.5 okt.', 10.5, 500, '#d8d8d0'],
  ['> 0.1 okt.', 11, 511, '#fff', { css: CHIP }], ['Widzialność', 6, 526, '#ff7f00'],
  ['Chmury:', 6, 543.5], ['wysokie', 11, 556.5, '#fff', { css: CHIP }], ['średnie', 10, 569, '#a0a0a0'], ['niskie', 10, 581, '#505050'], ['bardzo niskie', 10, 593, '#404040'],
  ['Mgła', 6, 605, '#ffc000'], ['Czas uniwersalny (UTC)', 6, 622, '#000', { css: 'letter-spacing:.45px;' }],
  ['* powyżej poziomu morza', 5, 647.5, '#000', { css: 'font-size:10px;font-weight:bold;' }],
  ['wschód słońca: 05:56 CEST', 285.5, 8.5, NAVY, TOPTXT], ['zachód słońca: 19:14 CEST', 287.5, 21.5, NAVY, TOPTXT],
  ['20°54\'43"E, 53°32\'29"N', 595.5, 8.5, NAVY, { center: 1, ...TOPTXT }], ['(x=248,  y=368)', 595.5, 21, NAVY, { center: 1, ...TOPTXT }],
  ['wysokość (min, środek, max)', 818, 8.5, NAVY, { center: 1, ...TOPTXT }], ['141 - 155 - 180 m', 819, 21, NAVY, { center: 1, ...TOPTXT }],
  ['nie, 07.09', 495, 38, '#000', { center: 1 }], ['pon, 08.09', 649, 38, '#000', { center: 1 }], ['wto, 09.09', 802, 38, '#000', { center: 1 }],
  ['CEST', 319, 50, '#000', { center: 1 }], ['CEST', 871, 50, '#000', { center: 1 }], ['UTC', 318, 612, '#000', { center: 1 }], ['UTC', 871, 612, '#000', { center: 1 }],
  ['07.09', 495.7, 625, '#000', { center: 1 }], ['08.09', 648, 625, '#000', { center: 1 }], ['09.09', 802, 625, '#000', { center: 1 }],
  ['meteo@icm.edu.pl', 309, 648, NAVY, { css: 'font-size:12.5px;letter-spacing:.5px;' }],
  ['© 2007-2025 ICM, Uniwersytet Warszawski', 623, 648, NAVY, { css: 'font-size:12.5px;letter-spacing:.3px;' }],
  // rotated axis titles
  ['temperatura', 290, 96, NAVY, { center: 1, rot: -90 }], ['(°C)', 305, 96, NAVY, { center: 1, rot: -90 }],
  ['(°C)', 890, 96, NAVY, { center: 1, rot: -90 }], ['temperatura', 902, 96, NAVY, { center: 1, rot: -90 }],
  ['opad', 290, 185, NAVY, { center: 1, rot: -90 }], ['(mm/h, kg/m²/h)', 305, 185, NAVY, { center: 1, rot: -90 }],
  ['(%)', 890, 185, NAVY, { center: 1, rot: -90 }], ['wilgotność wzgl.', 903, 185, NAVY, { center: 1, rot: -90 }],
  ['ciśnienie', 290, 272, NAVY, { center: 1, rot: -90 }], ['(hPa)', 304, 272, NAVY, { center: 1, rot: -90 }],
  ['(mm Hg)', 890, 272, NAVY, { center: 1, rot: -90 }], ['ciśnienie', 903, 272, NAVY, { center: 1, rot: -90 }],
  ['wiatr', 290, 362, NAVY, { center: 1, rot: -90 }], ['(m/s)', 305, 362, NAVY, { center: 1, rot: -90 }],
  ['(km/h)', 890, 362, NAVY, { center: 1, rot: -90 }], ['wiatr', 903, 362, NAVY, { center: 1, rot: -90 }],
  ['pion. rozciągł. chm.', 290, 473, NAVY, { center: 1, rot: -90 }], ['(km)', 305, 478, NAVY, { center: 1, rot: -90 }],
  ['zachmurzenie', 290, 570, NAVY, { center: 1, rot: -90 }], ['(oktanty)', 305, 566, NAVY, { center: 1, rot: -90 }],
  ['(km)', 890, 473, NAVY, { center: 1, rot: -90 }], ['widzialność', 903, 478, NAVY, { center: 1, rot: -90 }],
  ['(frakcja)', 890, 562, NAVY, { center: 1, rot: -90 }], ['mgła', 903, 562, NAVY, { center: 1, rot: -90 }],
  // compass letters beside the wind direction strip
  ['W', 289, 415, NAVY, { center: 1, css: 'font-size:14px;' }], ['N', 299, 407, NAVY, { center: 1, css: 'font-size:14px;' }],
  ['E', 307, 416, NAVY, { center: 1, rot: -90, css: 'font-size:14px;' }], ['S', 299, 425, NAVY, { center: 1, css: 'font-size:14px;' }],
  ['W', 887, 415, NAVY, { center: 1, css: 'font-size:14px;' }], ['N', 898, 406, NAVY, { center: 1, css: 'font-size:14px;' }],
  ['E', 906, 416, NAVY, { center: 1, css: 'font-size:14px;' }], ['S', 897, 425, NAVY, { center: 1, css: 'font-size:14px;' }],
].forEach(a => txt(...a));

// ── Leader lines of the legend ────────────────────────────────────────────
const leaders = [
  ['#000', [68,16, 130,16, 157,46]], [BROWN, [102,43, 120,43, 156,100]],
  ['#f00', [92,76.5, 116,76.5]], ['#f00', [130,76, 135,76, 158,103]], ['#0000e0', [70,98.5, 135,98.5]], [DEW, [94,120, 118,120, 137,113]],
  ['#f00', [103,137, 137,137, 146,146]], [RH, [108,151, 112,151]], [RH, [130,151, 145,165]], ['#000', [94,165, 113,165]], ['#000', [130,166, 137,172]],
  [LGREEN, [71,179, 136,179]], [LGREEN, [80,190, 136,190]], [SNOW, [70,201.5, 113,201.5]], [SNOW, [130,201, 161,171]], [SNOW, [80,212.5, 130,212.5, 167,173]],
  ['#f00', [98,224, 143,224, 145,220]], ['#000', [52,263, 130,263, 135,262]],
  ['#f00', [113,335, 120,335]], ['#f00', [130,335, 138,317]], ['#f00', [105,348, 130,348, 146,340]], ['#0000a0', [92,368, 135,368]], ['#0000a0', [85,409.5, 135,409.5]],
  [BROWN, [100,429.5, 110,429.5, 185,449]], ['#000', [58,468.5, 132,468.5, 192,456]], ['#505050', [58,480, 135,480]],
  ['#909090', [58,490.5, 130,490.5, 140,500]], ['#d0d0c8', [58,500, 130,500, 140,505]], ['#8fd0ff', [55,510, 135,510]], ['#8fd0ff', [55,512, 135,512]],
  [ORANGE, [67,527, 130,527, 175,462]], ['#8fd0ff', [55,557, 185,557]], ['#8fd0ff', [55,559, 185,559]], ['#909090', [50,571, 195,571]],
  ['#404040', [37,581, 120,581]], ['#404040', [130,581, 135,581]], ['#404040', [75,593, 147,593]], ['#ffb400', [27,605, 215,605, 219,598]], ['#000', [139,622, 148,622, 157,610]],
];
page.insertAdjacentHTML('beforeend', `<svg width="910" height="660">${leaders.map(([c, p]) =>
  `<polyline fill="none" stroke="${c}" stroke-width="1" points="${p.join(' ')}"/>`).join('')}</svg>`);
</script>
</body>
</html>
